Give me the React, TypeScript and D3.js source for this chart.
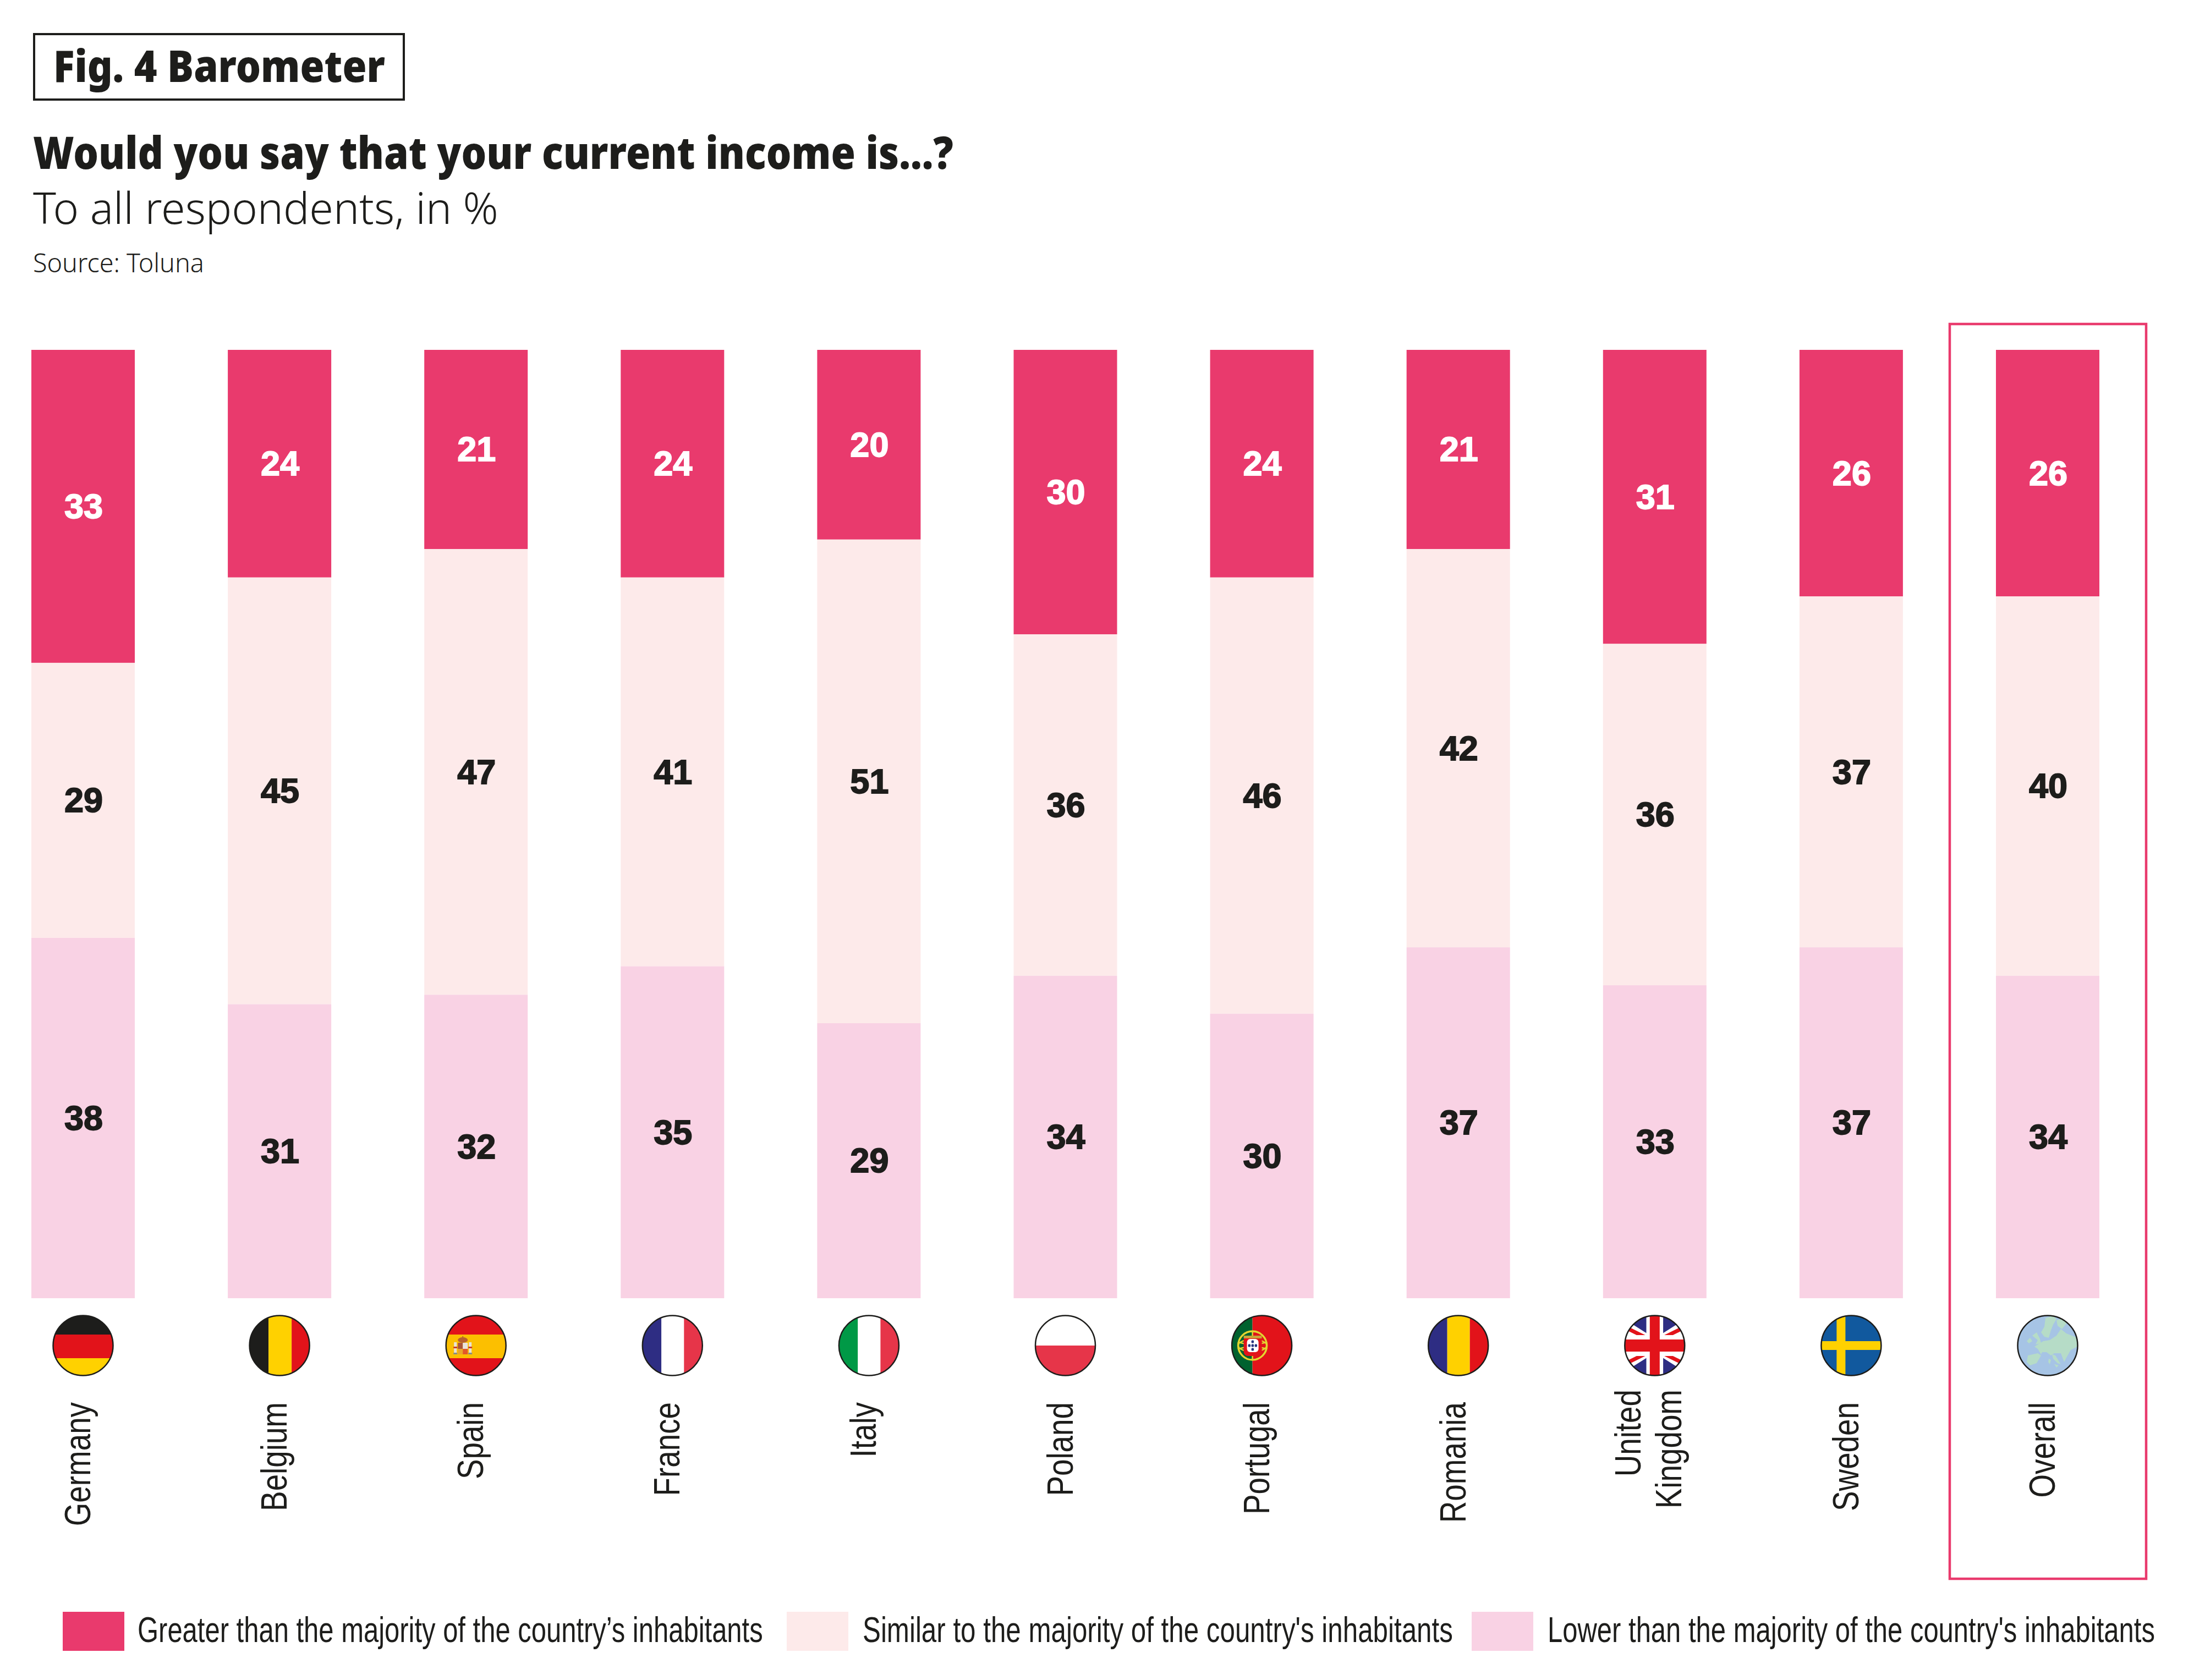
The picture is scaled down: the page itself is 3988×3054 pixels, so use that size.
import { useEffect, useRef } from "react";
import * as d3 from "d3";

const countries = ["Germany", "Belgium", "Spain", "France", "Italy", "Poland", "Portugal", "Romania", "United Kingdom", "Sweden", "Overall"];
const greater = [33, 24, 21, 24, 20, 30, 24, 21, 31, 26, 26];
const similar = [29, 45, 47, 41, 51, 36, 46, 42, 36, 37, 40];
const lower = [38, 31, 32, 35, 29, 34, 30, 37, 33, 37, 34];
const seriesKeys = ["greater", "similar", "lower"];
const seriesLabels = [
  "Greater than the majority of the country’s inhabitants",
  "Similar to the majority of the country's inhabitants",
  "Lower than the majority of the country's inhabitants",
];

const PINK = "#e93a6d", PALE = "#fdeaea", LIGHT = "#f9d2e4", INK = "#1d1d1b";
const colors = [PINK, PALE, LIGHT];
const labelColors = ["#ffffff", INK, INK];

const width = 3988, height = 3054;
const barTop = 636, barBottom = 2360, barLeft = 57, barRight = 3816;
const flagY = 2446, flagR = 54.5;

const SANS = "'Liberation Sans', Arial, sans-serif";
const HEAD = "'Noto Sans', sans-serif";

type G = d3.Selection<SVGGElement, unknown, null, undefined>;

const RED = "#e2131a", YEL = "#ffd100", BLK = "#1d1d1b", NAVY = "#2e2d83", SOFT = "#e63549";

// stripes across a 109px disc, cut points relative to its centre
const vstripes = (g: G, cuts: number[], fills: string[]) => {
  const edges = [-60, ...cuts, 60];
  fills.forEach((f, i) => g.append("rect").attr("x", edges[i]).attr("y", -60).attr("width", edges[i + 1] - edges[i]).attr("height", 120).attr("fill", f));
};
const hstripes = (g: G, cuts: number[], fills: string[]) => {
  const edges = [-60, ...cuts, 60];
  fills.forEach((f, i) => g.append("rect").attr("y", edges[i]).attr("x", -60).attr("height", edges[i + 1] - edges[i]).attr("width", 120).attr("fill", f));
};
const box = (g: G, x: number, y: number, w: number, h: number, fill: string, rx = 0) =>
  g.append("rect").attr("x", x).attr("y", y).attr("width", w).attr("height", h).attr("rx", rx).attr("fill", fill);

const flags: Record<string, (g: G) => void> = {
  Germany: g => hstripes(g, [-20, 23], [BLK, RED, YEL]),
  Belgium: g => vstripes(g, [-20, 22], [BLK, YEL, RED]),
  Spain: g => {
    hstripes(g, [-20, 23], [RED, "#fcbf00", RED]);
    // crown
    g.append("ellipse").attr("cx", -24).attr("cy", -10).attr("rx", 9).attr("ry", 5).attr("fill", "#b8612f");
    box(g, -25, -17, 2, 4, "#b8612f");
    // shield quarters
    box(g, -33, -5, 9, 11, "#a9553a");
    box(g, -24, -5, 9, 11, "#e9e2dc");
    box(g, -33, 6, 9, 10, "#e9a72a");
    box(g, -24, 6, 9, 10, "#e2582a");
    // pillars
    box(g, -40, -6, 5, 22, "#e8e2d6");
    box(g, -13, -6, 5, 22, "#e8e2d6");
    box(g, -41, 2, 7, 3, "#c8402c");
    box(g, -14, 2, 7, 3, "#c8402c");
    box(g, -41, 13, 7, 3, "#8a8f86");
    box(g, -14, 13, 7, 3, "#8a8f86");
  },
  France: g => vstripes(g, [-20, 21], [NAVY, "#ffffff", SOFT]),
  Italy: g => vstripes(g, [-20, 21], ["#009946", "#ffffff", SOFT]),
  Poland: g => hstripes(g, [0], ["#ffffff", SOFT]),
  Portugal: g => {
    vstripes(g, [-17], ["#00622f", RED]);
    const ring = "#e3d52f";
    g.append("circle").attr("cx", -17).attr("r", 26).attr("fill", "none").attr("stroke", ring).attr("stroke-width", 3.5);
    g.append("ellipse").attr("cx", -17).attr("rx", 26).attr("ry", 11).attr("fill", "none").attr("stroke", ring).attr("stroke-width", 2.5);
    g.append("path").attr("d", "M-43,-6L9,6M-43,6L9,-6M-17,-27V27").attr("stroke", ring).attr("stroke-width", 2.5);
    box(g, -33, -18, 33, 37, RED, 8);
    box(g, -33, -18, 33, 5, "#c9a338");
    box(g, -27, -12, 21, 24, "#ffffff", 6);
    [[-17, -7], [-23, 0], [-17, 0], [-11, 0], [-17, 7]].forEach(([x, y]) =>
      box(g, x - 2, y - 2.5, 4.5, 5, "#27357e", 1.5));
  },
  Romania: g => vstripes(g, [-20, 21], [NAVY, YEL, RED]),
  "United Kingdom": g => {
    box(g, -60, -60, 120, 120, NAVY);
    g.append("path").attr("d", "M-90,-57L90,57M90,-57L-90,57").attr("stroke", "#ffffff").attr("stroke-width", 22);
    g.append("path").attr("d", "M0,-6.6L-70,-41M0,-6.6L70,-41M0,6.6L-70,41M0,6.6L70,41").attr("stroke", RED).attr("stroke-width", 7);
    box(g, -15.3, -60, 30.6, 120, "#ffffff");
    box(g, -60, -19, 120, 38, "#ffffff");
    box(g, -9, -60, 18, 120, RED);
    box(g, -60, -11, 120, 22, RED);
  },
  Sweden: g => {
    box(g, -60, -60, 120, 120, "#11599e");
    g.append("path").attr("d", "M-18.5,-60V60M-60,0H60").attr("stroke", "#ffd100").attr("stroke-width", 16);
  },
  Overall: g => {
    box(g, -60, -60, 120, 120, "#a6c4e5");
    const land = "#b6dcc7";
    [
      "M-4,-50L10,-54L16,-48L10,-38L6,-28L2,-14L-6,-16L-12,-24L-6,-34Z",
      "M16,-46L30,-50L34,-40L26,-30L18,-36Z",
      "M-28,-18L-20,-24L-14,-12L-12,-4L-22,-2L-18,-10Z",
      "M-38,-8L-32,-14L-28,-8L-34,-4Z",
      "M-24,2L-8,-8L4,-10L16,-18L24,-30L34,-22L54,-14L54,2L42,8L34,22L30,30L24,14L12,14L6,18L-2,12L-10,12L-12,16L-18,6Z",
      "M-36,18L-18,14L-12,18L-20,32L-32,36L-38,30Z",
      "M8,16L14,18L24,34L18,32L10,24Z",
      "M12,34L20,36L16,40Z",
      "M2,24L6,26L4,34L1,30Z",
    ].forEach(d => g.append("path").attr("d", d).attr("fill", land));
  },
};

const App = () => {
  const ref = useRef<SVGSVGElement>(null);

  useEffect(() => {
    const svg = d3.select(ref.current!);
    svg.selectAll("*").remove();

    const data = countries.map((c, i) => ({ country: c, greater: greater[i], similar: similar[i], lower: lower[i] }));
    const series = d3.stack<any>().keys(seriesKeys)(data);

    const x = d3.scaleBand().domain(countries).range([barLeft, barRight]).paddingInner(0.4735);
    const y = d3.scaleLinear().domain([0, 100]).range([barTop, barBottom]);

    // squeeze a text horizontally to the width it has in the original
    const fitted = (parent: any, t: string, px: number, py: number, len: number, size: number, weight = 400) => {
      const node = parent.append("text").attr("font-size", size).attr("font-weight", weight).text(t);
      const sx = len / (node.node() as SVGTextElement).getComputedTextLength();
      node.attr("transform", `translate(${px},${py}) scale(${sx},1)`);
      return node;
    };

    // heading
    svg.append("rect").attr("x", 62).attr("y", 62).attr("width", 672).attr("height", 119).attr("fill", "none").attr("stroke", INK).attr("stroke-width", 4);
    const head = svg.append("g").attr("font-family", HEAD).attr("fill", INK);
    fitted(head, "Fig. 4 Barometer", 97, 149, 603, 80, 900);
    fitted(head, "Would you say that your current income is...?", 60, 307, 1673, 82, 900);
    fitted(head, "To all respondents, in %", 60, 407, 846, 80, 300);
    fitted(head, "Source: Toluna", 60, 495, 311, 48, 300);

    // overall frame
    svg.append("rect").attr("x", 3544).attr("y", 589).attr("width", 357).attr("height", 2281).attr("fill", "none").attr("stroke", PINK).attr("stroke-width", 4.5);

    // stacked bars
    const layers = svg.append("g").selectAll("g").data(series).join("g").attr("fill", (_, i) => colors[i]);
    layers.selectAll("rect").data(d => d).join("rect")
      .attr("x", d => x(d.data.country)!)
      .attr("width", x.bandwidth())
      .attr("y", d => y(d[0]))
      .attr("height", d => y(d[1]) - y(d[0]));

    // value labels
    svg.append("g").selectAll("g").data(series).join("g")
      .attr("fill", (_, i) => labelColors[i]).attr("stroke", (_, i) => labelColors[i]).attr("stroke-width", 1.8)
      .selectAll("text").data(d => d).join("text")
      .attr("x", d => x(d.data.country)! + x.bandwidth() / 2 + 1)
      .attr("y", d => y((d[0] + d[1]) / 2))
      .attr("dy", "0.34em")
      .attr("text-anchor", "middle")
      .attr("font-family", SANS).attr("font-weight", 700).attr("font-size", 63)
      .text(d => d[1] - d[0]);

    // flags
    const defs = svg.append("defs");
    countries.forEach((c, i) => {
      const id = `flag-${i}`;
      defs.append("clipPath").attr("id", id).append("circle").attr("r", flagR);
      const g = svg.append("g").attr("transform", `translate(${x(c)! + x.bandwidth() / 2},${flagY})`);
      const inner = g.append("g").attr("clip-path", `url(#${id})`) as unknown as G;
      flags[c](inner);
      g.append("circle").attr("r", flagR).attr("fill", "none").attr("stroke", INK).attr("stroke-width", 2.5);
    });

    // country names, two lines for the long one
    const names = svg.append("g").attr("font-family", SANS).attr("font-size", 66).attr("fill", INK).attr("text-anchor", "end");
    countries.forEach(c => {
      const cx = x(c)! + x.bandwidth() / 2;
      const words = c === "United Kingdom" ? c.split(" ") : [c];
      words.forEach((w, j) => {
        const bx = words.length > 1 ? cx + (j === 0 ? -26 : 48) : cx + 13;
        const by = words.length > 1 ? 2526 : 2549;
        names.append("text").attr("transform", `translate(${bx},${by}) rotate(-90) scale(0.83,1)`).text(w);
      });
    });

    // legend
    const legendX = d3.scaleOrdinal<string, number>().domain(seriesKeys).range([114, 1430, 2675]);
    const legendText = [250, 1568, 2813];
    const legendLen = [1137, 1073, 1104];
    const legend = svg.append("g").selectAll("g").data(seriesKeys).join("g");
    legend.append("rect").attr("x", d => legendX(d)).attr("y", 2930).attr("width", 112).attr("height", 71).attr("fill", (_, i) => colors[i]);
    const legendLabels = svg.append("g").attr("font-family", SANS).attr("fill", INK);
    seriesLabels.forEach((t, i) => fitted(legendLabels, t, legendText[i], 2985, legendLen[i], 64));
  }, []);

  return <svg ref={ref} width={width} height={height} viewBox={`0 0 ${width} ${height}`} style={{ position: "absolute", left: 0, top: 0, background: "#fff" }} />;
};

export default App;
